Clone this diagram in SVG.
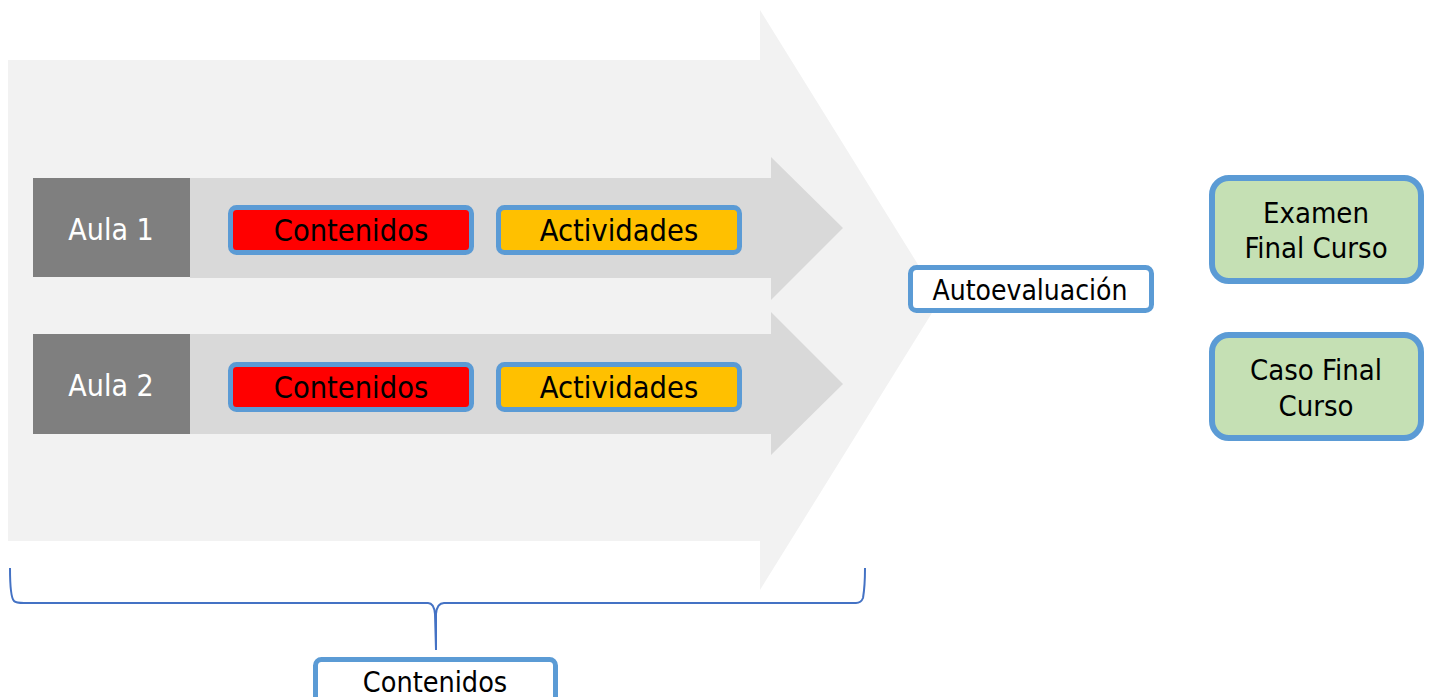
<svg xmlns="http://www.w3.org/2000/svg" width="1433" height="697" viewBox="0 0 1433 697">
<style>
.t{font-family:"DejaVu Sans Condensed","DejaVu Sans",sans-serif;font-stretch:condensed;text-anchor:middle;fill:#000}
.w{fill:#fff}
.bb{stroke:#5b9bd5;stroke-width:5}
.bg{stroke:#5b9bd5;stroke-width:6}
.big{fill:#f2f2f2}
.arr{fill:#d9d9d9}
.aula{fill:#7f7f7f}
</style>
<rect width="1433" height="697" fill="#fff"/>
<g id="main-arrow">
<polygon class="big" points="8,60 760,60 760,10 940,300 760,590 760,541 8,541"/>
</g>
<g id="aula1">
<polygon class="arr" points="190,178 771,178 771,157 843,228 771,300 771,278 190,278"/>
<rect class="aula" x="33" y="178" width="157" height="99"/>
<text class="t w" x="111" y="240" font-size="30">Aula 1</text>
</g>
<g id="aula2">
<polygon class="arr" points="190,334 771,334 771,312 843,384 771,455 771,434 190,434"/>
<rect class="aula" x="33" y="334" width="157" height="100"/>
<text class="t w" x="111" y="396" font-size="30">Aula 2</text>
</g>
<g id="contenidos1">
<rect class="bb" x="230.5" y="207.5" width="241" height="45" rx="6" fill="#ff0000"/>
<text class="t" x="351" y="241" font-size="30.5">Contenidos</text>
</g>
<g id="actividades1">
<rect class="bb" x="498.5" y="207.5" width="241" height="45" rx="6" fill="#ffc000"/>
<text class="t" x="619" y="241" font-size="30.5">Actividades</text>
</g>
<g id="contenidos2">
<rect class="bb" x="230.5" y="364.5" width="241" height="45" rx="6" fill="#ff0000"/>
<text class="t" x="351" y="398" font-size="30.5">Contenidos</text>
</g>
<g id="actividades2">
<rect class="bb" x="498.5" y="364.5" width="241" height="45" rx="6" fill="#ffc000"/>
<text class="t" x="619" y="398" font-size="30.5">Actividades</text>
</g>
<g id="autoevaluacion">
<rect class="bb" x="910.5" y="267.5" width="241" height="43" rx="6" fill="#fff"/>
<text class="t" x="1030" y="300" font-size="28">Autoevaluación</text>
</g>
<g id="examen">
<rect class="bg" x="1212" y="178" width="209" height="103" rx="17" fill="#c5e0b4"/>
<text class="t" x="1316" y="223" font-size="29">Examen</text>
<text class="t" x="1316" y="258" font-size="29">Final Curso</text>
</g>
<g id="caso">
<rect class="bg" x="1212" y="335" width="209" height="103" rx="17" fill="#c5e0b4"/>
<text class="t" x="1316" y="380" font-size="29">Caso Final</text>
<text class="t" x="1316" y="416" font-size="29">Curso</text>
</g>
<g id="connectors">
<path d="M10,568 C10,585 11,598 14,601 Q16,603 24,603 L428,603 Q434,603 435,614 L436,650 M436,650 L436,614 Q437,603 444,603 L856,603 Q861,603 863,598 C864,592 865,580 865,568" fill="none" stroke="#4472c4" stroke-width="2"/>
</g>
<g id="contenidos-bottom">
<rect class="bb" x="315.5" y="659.5" width="240" height="60" rx="6" fill="#fff"/>
<text class="t" x="435" y="692" font-size="28.5">Contenidos</text>
</g>
</svg>
